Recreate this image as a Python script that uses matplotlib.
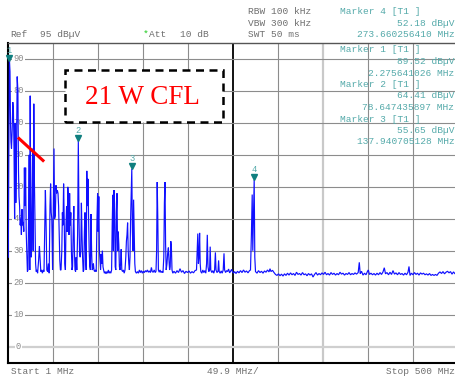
import matplotlib
matplotlib.use("Agg")
import matplotlib.pyplot as plt
from matplotlib.patches import Rectangle
from matplotlib.lines import Line2D
from matplotlib.transforms import offset_copy

W, H = 456, 379

# Trace 1: sweep vertices, frequency in MHz and level in dBuV
freq_mhz = [
    1.00, 1.55, 2.275641026, 2.88, 3.44, 3.99, 4.55, 5.32, 5.99, 6.66,
    7.32, 7.99, 8.65, 9.32, 9.98, 10.87, 11.65, 12.31, 12.87, 13.53,
    14.20, 14.86, 15.53, 16.19, 16.86, 17.52, 18.19, 18.85, 19.52, 20.18,
    20.85, 21.51, 22.18, 22.85, 23.51, 24.18, 24.84, 25.28, 25.95, 26.62,
    27.28, 27.95, 28.61, 29.28, 29.94, 30.61, 31.27, 31.94, 32.60, 33.49,
    34.60, 35.49, 36.15, 37.04, 37.93, 38.81, 39.70, 40.59, 41.47, 42.14,
    42.81, 43.69, 44.58, 45.47, 46.35, 47.24, 47.91, 48.57, 49.24, 50.12,
    51.01, 51.68, 52.34, 53.12, 53.89, 54.56, 55.34, 56.11, 56.78, 57.44,
    58.11, 58.77, 59.44, 60.33, 60.99, 61.66, 62.32, 62.99, 63.65, 64.32,
    64.98, 65.65, 66.31, 66.98, 67.64, 68.31, 68.98, 69.64, 70.31, 70.97,
    71.64, 72.30, 72.97, 73.63, 74.30, 74.96, 75.63, 76.29, 76.96, 77.85,
    78.647435897, 79.40, 80.06, 80.73, 81.39, 82.06, 82.73, 83.39, 84.06, 84.72,
    85.39, 86.05, 86.72, 87.38, 88.05, 88.71, 89.38, 90.04, 90.71, 91.37,
    92.04, 92.71, 93.37, 94.04, 94.70, 95.37, 96.03, 96.70, 97.58, 98.47,
    99.36, 100.02, 100.69, 101.35, 102.02, 102.69, 103.35, 104.02, 104.68, 105.35,
    106.01, 106.68, 107.56, 108.45, 109.34, 110.23, 111.11, 112.00, 112.89, 113.77,
    114.66, 115.55, 116.21, 116.88, 117.54, 118.21, 118.87, 119.54, 120.21, 120.87,
    121.54, 122.20, 122.87, 123.53, 124.20, 124.86, 125.53, 126.19, 126.86, 127.75,
    128.63, 129.52, 130.41, 131.29, 131.96, 132.63, 133.29, 133.96, 134.62, 135.29,
    135.95, 136.62, 137.940705128, 138.61, 139.28, 139.94, 140.61, 141.27, 141.94, 143.05,
    144.16, 145.27, 146.38, 147.49, 148.60, 149.71, 150.82, 151.92, 153.03, 154.14,
    155.25, 156.36, 157.47, 158.58, 159.69, 160.57, 161.68, 162.79, 163.90, 164.78,
    165.45, 166.11, 166.78, 167.44, 168.33, 169.22, 170.33, 171.44, 172.55, 173.43,
    174.10, 174.76, 175.43, 176.09, 176.98, 177.65, 178.53, 179.20, 179.86, 180.53,
    181.19, 181.86, 182.53, 183.41, 184.74, 186.41, 188.07, 189.73, 191.40, 193.06,
    194.72, 196.39, 198.05, 199.71, 201.38, 203.04, 204.70, 206.37, 208.03, 209.69,
    210.47, 211.13, 211.80, 212.47, 213.13, 213.80, 214.46, 215.57, 216.68, 217.79,
    218.90, 220.01, 220.89, 221.67, 222.45, 223.33, 224.22, 224.88, 225.55, 226.66,
    227.77, 228.88, 229.76, 230.65, 231.32, 232.43, 233.53, 234.20, 234.87, 235.97,
    237.08, 238.19, 239.30, 240.19, 240.85, 241.96, 243.07, 244.18, 245.29, 246.40,
    247.51, 248.62, 249.72, 250.83, 251.94, 253.49, 255.16, 256.82, 258.48, 260.15,
    261.81, 263.47, 265.14, 266.80, 268.46, 269.57, 270.57, 271.46, 272.12, 272.79,
    273.660256410, 274.34, 275.12, 276.78, 278.45, 280.11, 281.77, 283.44, 285.10, 286.76,
    288.43, 290.09, 291.20, 292.31, 293.97, 295.64, 297.30, 298.96, 300.63, 302.29,
    303.95, 305.62, 307.28, 308.95, 310.61, 312.27, 313.94, 315.60, 317.26, 318.93,
    320.59, 322.25, 323.92, 325.58, 327.25, 328.91, 330.57, 332.24, 333.90, 335.56,
    337.23, 338.89, 340.55, 342.22, 343.88, 345.55, 347.21, 348.87, 350.54, 352.20,
    353.86, 355.53, 357.19, 358.86, 360.52, 362.18, 363.85, 365.51, 367.17, 368.84,
    370.50, 372.16, 373.83, 375.49, 377.16, 378.82, 380.48, 382.15, 383.81, 385.47,
    387.14, 389.00, 390.22, 391.22, 392.66, 394.33, 395.99, 397.65, 399.32, 400.20,
    401.53, 403.20, 404.86, 406.52, 408.19, 409.85, 411.51, 413.18, 414.84, 416.51,
    417.93, 419.27, 420.94, 422.60, 424.26, 425.93, 427.59, 429.25, 430.92, 432.58,
    434.25, 435.91, 437.57, 439.24, 440.90, 442.56, 444.23, 445.33, 446.44, 448.10,
    449.77, 451.43, 453.09, 454.76, 456.42, 458.08, 459.75, 461.41, 463.08, 464.74,
    466.40, 468.07, 469.73, 471.39, 473.06, 474.72, 476.38, 478.05, 479.71, 481.38,
    483.04, 484.70, 486.37, 488.03, 489.69, 491.36, 493.02, 494.69, 496.35, 498.01,
    500.00,
]
level_dbuv = [
    28, 60, 89.52, 86, 70, 64, 62, 68, 76.5, 74,
    62, 40, 70, 45, 58, 84.5, 80, 55, 47, 44,
    38, 40, 35, 43, 38, 39, 36, 56, 44, 56,
    36, 30, 23.5, 24, 40, 60, 24, 78.5, 35, 28,
    45, 62, 30, 76, 52, 38, 26, 23.5, 24, 23,
    27, 31.5, 28, 23.5, 24, 23, 24, 23.5, 38, 49,
    40, 24, 23.5, 26, 23, 44, 51, 42, 40, 24,
    45, 62, 40, 41, 50.5, 48, 49, 48, 44, 36,
    27, 24, 24, 30, 42, 38, 51, 40, 26, 24,
    38, 44, 36, 50, 46.5, 35, 48, 38, 42, 30,
    24, 25, 36, 44, 30, 24, 23.5, 28, 24, 35,
    64.41, 40, 29, 28, 30, 45, 35, 28, 23.5, 24,
    36, 42, 28, 24, 55, 44, 52.5, 40, 30, 25,
    24, 41.5, 30, 24, 24.5, 26, 24, 23.5, 24, 23.5,
    40, 48, 36, 47, 30, 27, 24, 29, 26, 30,
    25, 24, 23, 23.5, 22.8, 23.5, 23, 24, 23, 23.5,
    23, 24, 38, 47.5, 30, 49, 44.5, 25, 24, 42,
    48, 30, 36, 32, 25, 24, 26, 30.5, 24, 23.5,
    24, 23, 24, 28, 33, 35, 38.8, 30, 26, 24,
    28, 40, 55.65, 36, 30, 46, 36, 26, 23.5, 23,
    23.5, 23, 24, 23.2, 23.8, 23, 23.6, 23.2, 23.8, 23.4,
    24, 23.3, 23.7, 23.2, 24.8, 23.5, 23.3, 24, 23.2, 23.6,
    30, 51.5, 40, 24, 23.3, 24, 23.2, 23.6, 23.2, 28,
    45, 51.5, 32, 24, 26, 29, 31, 27, 24, 25,
    33, 31, 24, 23, 23.6, 23, 23.8, 23.2, 24.4, 23.3,
    23.8, 22.9, 23.6, 23.2, 23.7, 23, 23.5, 23.1, 23.8, 24,
    30, 35.4, 26, 28, 35.6, 26, 23.5, 23, 24, 23.2,
    23.8, 23, 26, 35, 25, 23.5, 24, 31.3, 24, 23.2,
    23.8, 23, 24, 29.5, 24, 23.2, 23.6, 27, 23.5, 23,
    23.7, 23, 24, 29.2, 24, 23.2, 23.8, 23.5, 24.3, 23.1,
    23.6, 24.2, 23.4, 23.0, 23.5, 22.9, 23.6, 23.1, 23.8, 23.2,
    24, 23.3, 23.7, 23.1, 23.8, 24, 35, 47.6, 30, 40,
    52.18, 28, 23.5, 23, 23.8, 23.2, 23.6, 23, 23.7, 23.3,
    24, 23.4, 24.4, 23.5, 23.9, 23.2, 22.6, 22.3, 22.8, 22.2,
    22.7, 22.1, 22.8, 22.3, 23, 22.4, 23.1, 22.5, 22.9, 22.3,
    23.3, 22.6, 22.9, 22.4, 23.2, 22.5, 22.8, 22.2, 22.9, 22.4,
    22.8, 21.8, 22.6, 23.2, 22.4, 22.9, 22.5, 23.1, 22.6, 23.3,
    22.5, 22.9, 22.4, 23.2, 22.6, 23, 22.4, 22.9, 22.5, 23.3,
    22.7, 23, 22.4, 22.9, 22.6, 23.2, 22.5, 22.9, 22.6, 23.1,
    22.7, 23.2, 26.4, 22.8, 23.6, 22.4, 23, 22.5, 23.6, 24,
    22.6, 23, 22.5, 22.9, 22.4, 23, 22.5, 23.2, 22.6, 23.4,
    24.7, 22.8, 23.2, 22.5, 23.3, 22.6, 23.8, 22.7, 23.1, 22.5,
    23.2, 22.6, 22.9, 22.4, 23, 22.5, 23.3, 25.1, 22.3, 23,
    22.5, 23.2, 22.6, 23, 22.4, 23.1, 22.7, 23, 22.5, 22.8,
    22.4, 22.9, 22.3, 22.6, 22.3, 22.6, 22.3, 23, 23.4, 22.9,
    23.5, 22.8, 23.3, 23.6, 23.1, 23.5, 22.7, 23.4, 22.8, 23.2,
    23,
]

# Markers on trace 1
marker_ids = ["1", "2", "3", "4"]
marker_freq_mhz = [2.275641026, 78.647435897, 137.940705128, 273.660256410]
marker_level_dbuv = [89.52, 64.41, 55.65, 52.18]

# Instrument settings
ref_level_dbuv = 95
db_per_div = 10
att_db = 10
rbw_khz = 100
vbw_khz = 300
swt_ms = 50
start_mhz = 1
stop_mhz = 500
span_per_div_mhz = 49.9
level_ticks = [90, 80, 70, 60, 50, 40, 30, 20, 10, 0]

GRID = "#8c8c8c"
HEAD = "#6e6e6e"
TEAL = "#55aaaa"
TEAL_DARK = "#0f7f7f"
MONO = "Liberation Mono"


def fx(px):
    return px / W


def fy(py):
    return 1 - py / H


fig = plt.figure(figsize=(W / 100, H / 100), dpi=100)
fig.patch.set_facecolor("white")

# Screen area: 10 x 10 divisions
left_px, right_px, top_px, bottom_px = 8.3, 458.3, 43.0, 362.7
ax = fig.add_axes([fx(left_px), fy(bottom_px), (right_px - left_px) / W,
                   (bottom_px - top_px) / H])
ax.set_xlim(start_mhz, stop_mhz)
ax.set_ylim(ref_level_dbuv - 10 * db_per_div, ref_level_dbuv)
ax.set_xticks([])
ax.set_yticks([])
for side in ("left", "bottom"):
    ax.spines[side].set_color("black")
    ax.spines[side].set_linewidth(1.5)
ax.spines["top"].set_color("#555555")
ax.spines["top"].set_linewidth(1.0)
ax.spines["right"].set_visible(False)

# Graticule
for k in range(1, 10):
    f = start_mhz + k * span_per_div_mhz
    if k == 5:
        ax.axvline(f, color="black", lw=1.3, zorder=1)
    elif k == 7:
        ax.axvline(f, color="#c9c9c9", lw=1.6, zorder=1)
    else:
        ax.axvline(f, color=GRID, lw=0.8, zorder=1)
for lv in level_ticks:
    if lv == 0:
        ax.axhline(lv, color="#cfcfcf", lw=1.6, zorder=1)
    else:
        ax.axhline(lv, color=GRID, lw=0.8, zorder=1)

# Level labels sitting on the graticule lines
for lv in level_ticks:
    ax.text(fx(18.5) and (18.5 - left_px) / (right_px - left_px), lv, str(lv),
            transform=ax.get_yaxis_transform(), ha="center", va="center",
            fontsize=6.3, family=MONO, color="#8a8a8a", zorder=2,
            bbox=dict(facecolor="white", edgecolor="none", pad=0.6))

# Trace
ax.plot(freq_mhz, level_dbuv, color="#1010ff", lw=0.85, zorder=4,
        solid_joinstyle="miter")

# Marker symbols and numbers
tri_tr = offset_copy(ax.transData, fig=fig, x=0, y=2.5, units="dots")
num_tr = offset_copy(ax.transData, fig=fig, x=0, y=10, units="dots")
for mid, mf, ml in zip(marker_ids, marker_freq_mhz, marker_level_dbuv):
    ax.plot([mf], [ml], marker="v", ms=4.2, color=TEAL_DARK, mec=TEAL_DARK,
            transform=tri_tr, zorder=6, clip_on=False)
    ax.text(mf, ml, mid, transform=num_tr, ha="center", va="center",
            fontsize=6.3, family=MONO, color=TEAL, zorder=6)

# Annotation box
ax.add_patch(Rectangle(((65 - left_px) / 450, (bottom_px - 122) / (bottom_px - top_px)),
                       158 / 450, 52 / (bottom_px - top_px),
                       transform=ax.transAxes, facecolor="white", edgecolor="black",
                       lw=1.8, linestyle=(0, (3.2, 2.2)), zorder=5))
ax.text((142.5 - left_px) / 450, (bottom_px - 97) / (bottom_px - top_px), "21 W CFL",
        transform=ax.transAxes, ha="center", va="center", fontsize=19.5,
        family="Liberation Serif", color="red", zorder=6)

# Red pointer stroke
ax.add_line(Line2D([(19.0 - left_px) / 450, (43.0 - left_px) / 450],
                   [(bottom_px - 138.5) / (bottom_px - top_px),
                    (bottom_px - 160.5) / (bottom_px - top_px)],
                   transform=ax.transAxes, color="red", lw=2.2, zorder=6))

# Header
ts = dict(fontsize=6.8, family=MONO, va="center", ha="left")
fig.text(fx(10), fy(34.3), "Ref", color=HEAD, **ts)
fig.text(fx(40.5), fy(34.3), f"{ref_level_dbuv} dBµV", color=HEAD, **ts)
fig.text(fx(143), fy(34.3), "*", color="#22cc22", **ts)
fig.text(fx(149), fy(34.3), "Att", color=HEAD, **ts)
fig.text(fx(180), fy(34.3), f"{att_db} dB", color=HEAD, **ts)
fig.text(fx(248.3), fy(11.5), f"RBW {rbw_khz} kHz", color=HEAD, **ts)
fig.text(fx(248.3), fy(23.0), f"VBW {vbw_khz} kHz", color=HEAD, **ts)
fig.text(fx(248.3), fy(34.3), f"SWT {swt_ms} ms", color=HEAD, **ts)

# Marker readouts: marker 4 in the header, markers 1-3 inside the screen
def readout(i, y0):
    fig.text(fx(340), fy(y0), f"Marker {marker_ids[i]} [T1 ]", color=TEAL, **ts)
    tr = dict(ts, ha="right")
    fig.text(fx(454.5), fy(y0 + 11.5), f"{marker_level_dbuv[i]:.2f} dBµV",
             color=TEAL, **tr)
    fig.text(fx(454.5), fy(y0 + 23.0), f"{marker_freq_mhz[i]:.9f} MHz",
             color=TEAL, **tr)


readout(3, 11.5)
readout(0, 50.0)
readout(1, 84.5)
readout(2, 119.0)

# Footer
fig.text(fx(11), fy(371), f"Start {start_mhz} MHz", color=HEAD, **ts)
fig.text(fx(207), fy(371), f"{span_per_div_mhz} MHz/", color=HEAD, **ts)
fig.text(fx(455.5), fy(371), f"Stop {stop_mhz} MHz", color=HEAD,
         **dict(ts, ha="right"))

fig.savefig("out.png", dpi=100)
